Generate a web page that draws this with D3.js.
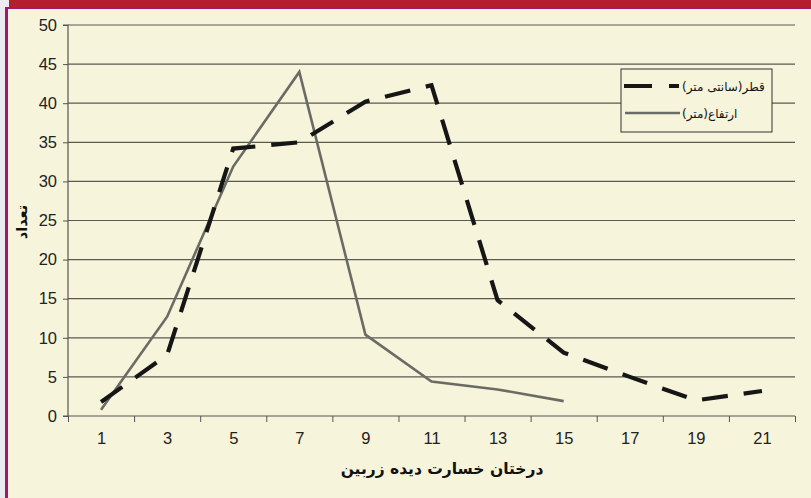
<!DOCTYPE html>
<html>
<head>
<meta charset="utf-8">
<script src="https://cdn.jsdelivr.net/npm/d3@7"></script>
<style>
  html, body { margin: 0; padding: 0; background: #ececf0; }
  svg { display: block; }
</style>
</head>
<body>
<svg id="chart" width="811" height="498"></svg>
<script>
// ---- data ----
const xValues = [1, 3, 5, 7, 9, 11, 13, 15, 17, 19, 21];
const diameterSeries = [1.8, 7.8, 34.2, 35, 40.2, 42.3, 14.8, 8.1, 5.0, 2.0, 3.2];   // قطر(سانتی متر)
const heightXValues = [1, 3, 5, 7, 9, 11, 13, 15];
const heightSeries = [0.8, 12.7, 31.9, 44.0, 10.4, 4.4, 3.4, 1.9];                 // ارتفاع(متر)
const xTickLabels = [1, 3, 5, 7, 9, 11, 13, 15, 17, 19, 21];
const xTickMarks = [0, 2, 4, 6, 8, 10, 12, 14, 16, 18, 20, 22];
const yTicks = [0, 5, 10, 15, 20, 25, 30, 35, 40, 45, 50];
const seriesNames = ["قطر(سانتی متر)", "ارتفاع(متر)"];
const xTitle = "درختان خسارت دیده زربین";
const yTitle = "تعداد";

// ---- layout ----
const svg = d3.select("#chart");
const W = 811, H = 498;
const plot = { left: 68, right: 795, top: 25, bottom: 416 };
const numFont = "'Liberation Sans Narrow', 'Arial Narrow', 'Liberation Sans', sans-serif";
const arFont = "'DejaVu Sans', 'Noto Sans', sans-serif";

// page frame
svg.append("rect").attr("x", 0).attr("y", 0).attr("width", W).attr("height", H).attr("fill", "#ececf0");
svg.append("rect").attr("x", 9).attr("y", 0).attr("width", W - 9).attr("height", 8).attr("fill", "#b31f2a");
svg.append("rect").attr("x", 5).attr("y", 7).attr("width", W - 5).attr("height", H - 7).attr("fill", "#a5176e");
svg.append("rect").attr("x", 8).attr("y", 9).attr("width", W - 8).attr("height", H - 9).attr("fill", "#f6f4da");

const x = d3.scaleLinear().domain([0, 22]).range([plot.left, plot.right]);
const y = d3.scaleLinear().domain([0, 50]).range([plot.bottom, plot.top]);

// gridlines
svg.append("g").selectAll("line").data(yTicks.filter(d => d > 0)).join("line")
  .attr("x1", plot.left).attr("x2", plot.right)
  .attr("y1", d => y(d)).attr("y2", d => y(d))
  .attr("stroke", "#5a5a52").attr("stroke-width", 1.2);

// y axis
const yAxis = d3.axisLeft(y).tickValues(yTicks).tickSize(5).tickPadding(6).tickFormat(d3.format("d"));
const gy = svg.append("g").attr("transform", `translate(${plot.left},0)`).call(yAxis);
gy.select(".domain").attr("stroke", "#555").attr("stroke-width", 1.2).attr("d", `M-5,${plot.bottom}H0V${plot.top}H-5`);
gy.selectAll(".tick line").attr("stroke", "#555");
gy.selectAll(".tick text").attr("font-family", numFont).attr("font-size", 16.5).attr("fill", "#222");

// x axis: tick marks between labels
const xAxisMarks = d3.axisBottom(x).tickValues(xTickMarks).tickSize(6).tickFormat("");
const gx = svg.append("g").attr("transform", `translate(0,${plot.bottom})`).call(xAxisMarks);
gx.select(".domain").attr("stroke", "#555").attr("stroke-width", 1.2).attr("d", `M${plot.left},0H${plot.right}`);
gx.selectAll(".tick line").attr("stroke", "#555");

const xAxisLabels = d3.axisBottom(x).tickValues(xTickLabels).tickSize(0).tickPadding(16).tickFormat(d3.format("d"));
const gxl = svg.append("g").attr("transform", `translate(0,${plot.bottom})`).call(xAxisLabels);
gxl.select(".domain").remove();
gxl.selectAll(".tick text").attr("font-family", numFont).attr("font-size", 16.5).attr("fill", "#222");

// axis titles
svg.append("text").attr("x", 442).attr("y", 474).attr("text-anchor", "middle")
  .attr("font-family", arFont).attr("font-weight", "bold").attr("font-size", 15.5).attr("fill", "#111")
  .text(xTitle);
svg.append("text").attr("transform", "translate(27,222) rotate(-90)").attr("text-anchor", "middle")
  .attr("font-family", arFont).attr("font-weight", "bold").attr("font-size", 14.5).attr("fill", "#111")
  .text(yTitle);

// series lines
const line = d3.line().x(d => x(d[0])).y(d => y(d[1]));
const heightPts = heightXValues.map((v, i) => [v, heightSeries[i]]);
const diamPts = xValues.map((v, i) => [v, diameterSeries[i]]);

svg.append("path").datum(heightPts).attr("d", line)
  .attr("fill", "none").attr("stroke", "#6b6b66").attr("stroke-width", 2.6).attr("stroke-linejoin", "miter");
svg.append("path").datum(diamPts).attr("d", line)
  .attr("fill", "none").attr("stroke", "#161616").attr("stroke-width", 4.2)
  .attr("stroke-dasharray", "26,16").attr("stroke-linejoin", "miter");

// legend
const lg = svg.append("g");
lg.append("rect").attr("x", 621).attr("y", 69).attr("width", 151).attr("height", 63)
  .attr("fill", "#f6f4da").attr("stroke", "#333").attr("stroke-width", 1);
lg.append("line").attr("x1", 624).attr("x2", 679).attr("y1", 86).attr("y2", 86)
  .attr("stroke", "#161616").attr("stroke-width", 4.2).attr("stroke-dasharray", "28,17");
lg.append("line").attr("x1", 625).attr("x2", 680).attr("y1", 113).attr("y2", 113)
  .attr("stroke", "#6b6b66").attr("stroke-width", 2.6);
lg.append("text").attr("x", 682).attr("y", 91).attr("direction", "rtl").attr("text-anchor", "end")
  .attr("font-family", arFont).attr("font-size", 12).attr("fill", "#111").text(seriesNames[0]);
lg.append("text").attr("x", 682).attr("y", 118).attr("direction", "rtl").attr("text-anchor", "end")
  .attr("font-family", arFont).attr("font-size", 12).attr("fill", "#111").text(seriesNames[1]);
</script>
</body>
</html>
